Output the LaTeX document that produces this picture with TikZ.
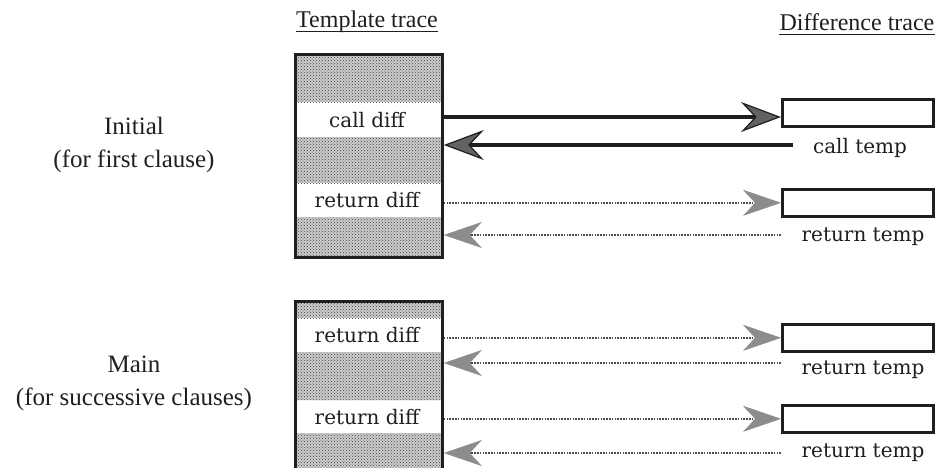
\documentclass[tikz,border=0pt]{standalone}
\usepackage{fontspec}
\setmainfont{Liberation Serif}
\newfontfamily\lblfont{DejaVu Serif}
\usetikzlibrary{arrows.meta,patterns}
\definecolor{ink}{gray}{0.12}
\definecolor{shade}{gray}{0.80}
\definecolor{dotink}{gray}{0.30}
\definecolor{tipfill}{gray}{0.55}
\tikzset{
  band/.style={fill=shade, draw=none},
  dots/.style={pattern=crosshatch dots, pattern color=black!75},
  frame/.style={draw=ink, line width=2.8pt, inner sep=0pt, minimum width=147pt},
  slot/.style={draw=ink, line width=2.6pt, fill=white, inner sep=0pt,
               minimum width=151pt, minimum height=27pt},
  lbl/.style={font=\lblfont\fontsize{20}{24}\selectfont, text=ink, inner sep=0pt},
  head/.style={font=\fontsize{24}{28}\selectfont, text=ink, inner sep=0pt},
  side/.style={font=\fontsize{25}{33}\selectfont, text=ink, align=center, inner sep=0pt},
  uline/.style={draw=ink, line width=1.4pt},
  callarrow/.style={draw=ink, line width=3.2pt,
    -{Stealth[length=40pt, width=30pt, inset=14pt, line width=1.2pt, fill=ink!70]}},
  retarrow/.style={draw=dotink, line width=2.2pt, dash pattern=on 1.6pt off 1.2pt,
    -{Stealth[length=38pt, width=26pt, inset=12pt, line width=0.5pt, color=tipfill, fill=tipfill]}},
}
\begin{document}
\begin{tikzpicture}[x=1pt, y=-1pt]
  \useasboundingbox (0,0) rectangle (942,467);

  % column headings
  \node[head] (hT) at (367,22) {Template trace};
  \node[head] (hD) at (857,22) {Difference trace};
  \draw[uline] ([yshift=-4pt]hT.base west) -- ([yshift=-4pt]hT.base east);
  \draw[uline] ([yshift=-4pt]hD.base west) -- ([yshift=-4pt]hD.base east);

  % phase names
  \node[side] (ini) at (134,145) {Initial\\(for first clause)};
  \node[side] (mai) at (134,383) {Main\\(for successive clauses)};

  % template trace, initial phase
  \foreach \ya/\yb in {53/102, 137/183, 217/256} {
    \fill[band] (294,\ya) rectangle (441,\yb);
    \fill[dots] (294,\ya) rectangle (441,\yb);
  }
  \node[frame, minimum height=203pt, anchor=north west] (tA) at (294,53) {};
  \node[lbl] (cd) at (367,120) {call diff};
  \node[lbl] (rdA) at (367,200) {return diff};

  % template trace, main phase (runs on past the lower edge)
  \begin{scope}
    \clip (0,0) rectangle (942,467);
    \foreach \ya/\yb in {300/318, 352/400, 433/490} {
      \fill[band] (294,\ya) rectangle (441,\yb);
      \fill[dots] (294,\ya) rectangle (441,\yb);
    }
    \node[frame, minimum height=200pt, anchor=north west] (tB) at (294,300) {};
  \end{scope}
  \node[lbl] (rdB1) at (367,335) {return diff};
  \node[lbl] (rdB2) at (367,417) {return diff};

  % difference trace slots
  \node[slot, anchor=north west] (dA1) at (781,98) {};
  \node[slot, anchor=north west] (dA2) at (781,188) {};
  \node[slot, anchor=north west] (dB1) at (781,323) {};
  \node[slot, anchor=north west] (dB2) at (781,404) {};
  \node[lbl] (ct) at (860,148) {call temp};
  \node[lbl] (rtA) at (863,237) {return temp};
  \node[lbl] (rtB1) at (863,370) {return temp};
  \node[lbl] (rtB2) at (863,453) {return temp};

  % calls and returns
  \coordinate (ctS) at (793,145);
  \draw[callarrow] (tA.east |- 0,117) -- (dA1.west |- 0,117);
  \draw[callarrow] (ctS) -- (tA.east |- ctS);
  \draw[retarrow] (tA.east |- dA2.west) -- (dA2.west);
  \draw[retarrow] (dA2.west |- 0,235) -- (tA.east |- 0,235);
  \draw[retarrow] (tB.east |- dB1.west) -- (dB1.west);
  \draw[retarrow] (dB1.west |- 0,363) -- (tB.east |- 0,363);
  \draw[retarrow] (tB.east |- dB2.west) -- (dB2.west);
  \draw[retarrow] (dB2.west |- 0,453) -- (tB.east |- 0,453);
\end{tikzpicture}
\end{document}
